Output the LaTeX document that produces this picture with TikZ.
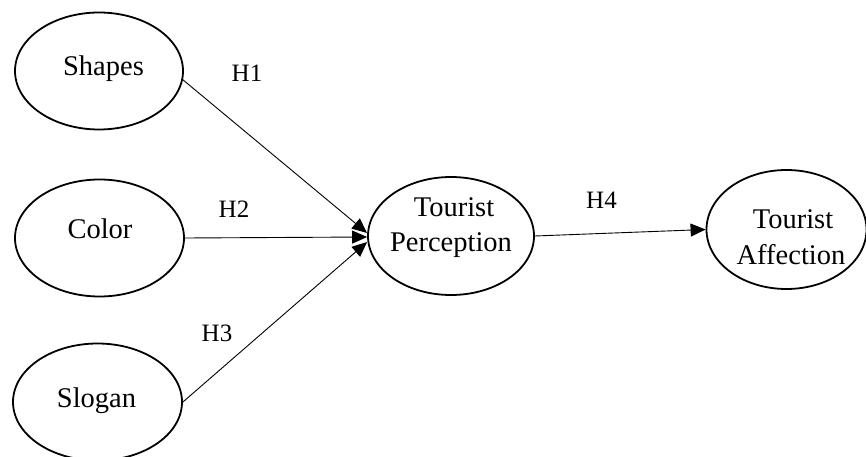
\documentclass[tikz,border=0pt]{standalone}
\usepackage{fontspec}
\setmainfont{Liberation Serif}
\usetikzlibrary{shapes.geometric,arrows.meta}
\begin{document}
\begin{tikzpicture}[x=1pt,y=-1pt,
  ell/.style={draw,ellipse,line width=1.8pt,inner sep=0pt},
  txt/.style={anchor=base,inner sep=0pt,font=\fontsize{28.5}{34}\selectfont},
  lbl/.style={anchor=base,inner sep=0pt,font=\fontsize{25}{30}\selectfont},
  conn/.style={line width=0.9pt,-{Triangle[length=15pt,width=13pt]}}]
\useasboundingbox (0,0) rectangle (866,457);
\begin{scope}
\clip (0,0) rectangle (866,457);
\node[ell,minimum width=168pt,minimum height=117pt] (shapes) at (99,71) {};
\node[ell,minimum width=169pt,minimum height=117pt] (color) at (99.5,238) {};
\node[ell,minimum width=169pt,minimum height=117pt] (slogan) at (97.5,402) {};
\node[ell,minimum width=166pt,minimum height=118pt] (perc) at (451,236) {};
\node[ell,minimum width=160pt,minimum height=119pt] (aff) at (786.5,229.5) {};
\end{scope}
\node[txt] (tshapes) at (103.5,76) {Shapes};
\node[txt] (tcolor) at (100,238) {Color};
\node[txt] (tslogan) at (96.5,407) {Slogan};
\node[txt] (tp1) at (454,216) {Tourist};
\node[txt] (tp2) at (451,251) {Perception};
\node[txt] (ta1) at (793,228) {Tourist};
\node[txt] (ta2) at (791,264) {Affection};
\node[lbl] (h1) at (247,82) {H1};
\node[lbl] (h2) at (234,217) {H2};
\node[lbl] (h3) at (217,341) {H3};
\node[lbl] (h4) at (601.5,208) {H4};
\draw[conn] (shapes.-6) -- ([yshift=3pt]perc.west);
\draw[conn] (color.east) -- ([yshift=-1pt]perc.west);
\draw[conn] (slogan.east) -- ([yshift=-6pt]perc.west);
\draw[conn] (perc.east) -- (aff.west);
\end{tikzpicture}
\end{document}
